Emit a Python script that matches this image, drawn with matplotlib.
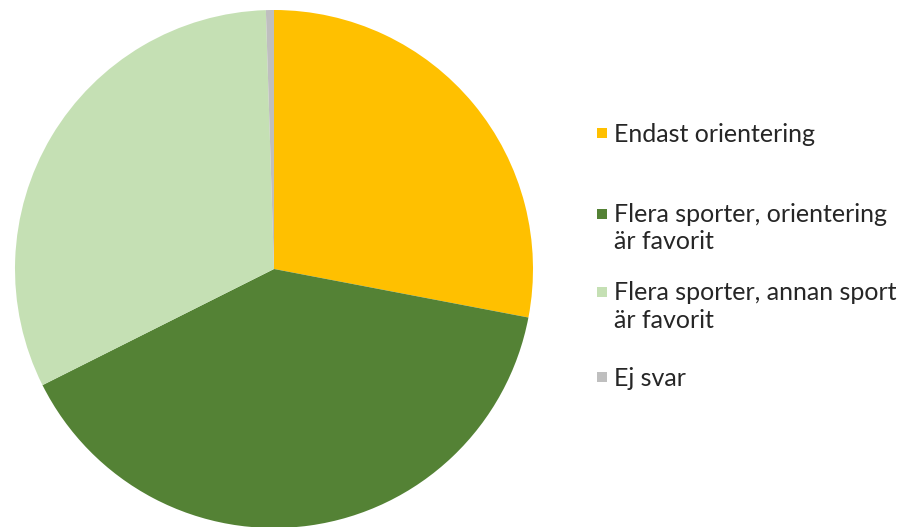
import matplotlib
matplotlib.use("Agg")
import matplotlib.pyplot as plt
from matplotlib.patches import Rectangle

# Share of answers per group (percent)
labels = [
    "Endast orientering",
    "Flera sporter, orientering\när favorit",
    "Flera sporter, annan sport\när favorit",
    "Ej svar",
]
shares = [28.0, 39.6, 31.9, 0.5]
colors = ["#FFC000", "#548235", "#C5E0B4", "#BFBFBF"]

W, H = 905, 527
fig = plt.figure(figsize=(W / 100, H / 100), dpi=100)

# pie area: centre (274, 269) px, radius 259 px
cx, cy, r = 274, 269, 259
ax = fig.add_axes([(cx - r) / W, (H - cy - r) / H, 2 * r / W, 2 * r / H])
ax.pie(shares, colors=colors, startangle=90, counterclock=False, radius=1,
       wedgeprops=dict(linewidth=0))
ax.set_xlim(-1, 1)
ax.set_ylim(-1, 1)
ax.set_aspect("equal")
ax.axis("off")

# legend drawn by hand: square marker beside the first line of each label
first_line_y = [133, 214, 292, 377]
line_gap = 27
sq = 10
for lab, col, y in zip(labels, colors, first_line_y):
    fig.patches.append(Rectangle((597 / W, 1 - (y + sq / 2) / H), sq / W, sq / H,
                                 transform=fig.transFigure, facecolor=col,
                                 edgecolor="none"))
    for i, line in enumerate(lab.split("\n")):
        fig.text(614 / W, 1 - (y - 1 + i * line_gap) / H, line, ha="left",
                 va="center_baseline", fontsize=18,
                 family=["Lato", "DejaVu Sans"], color="#262626")

fig.savefig("out.png", dpi=100)
